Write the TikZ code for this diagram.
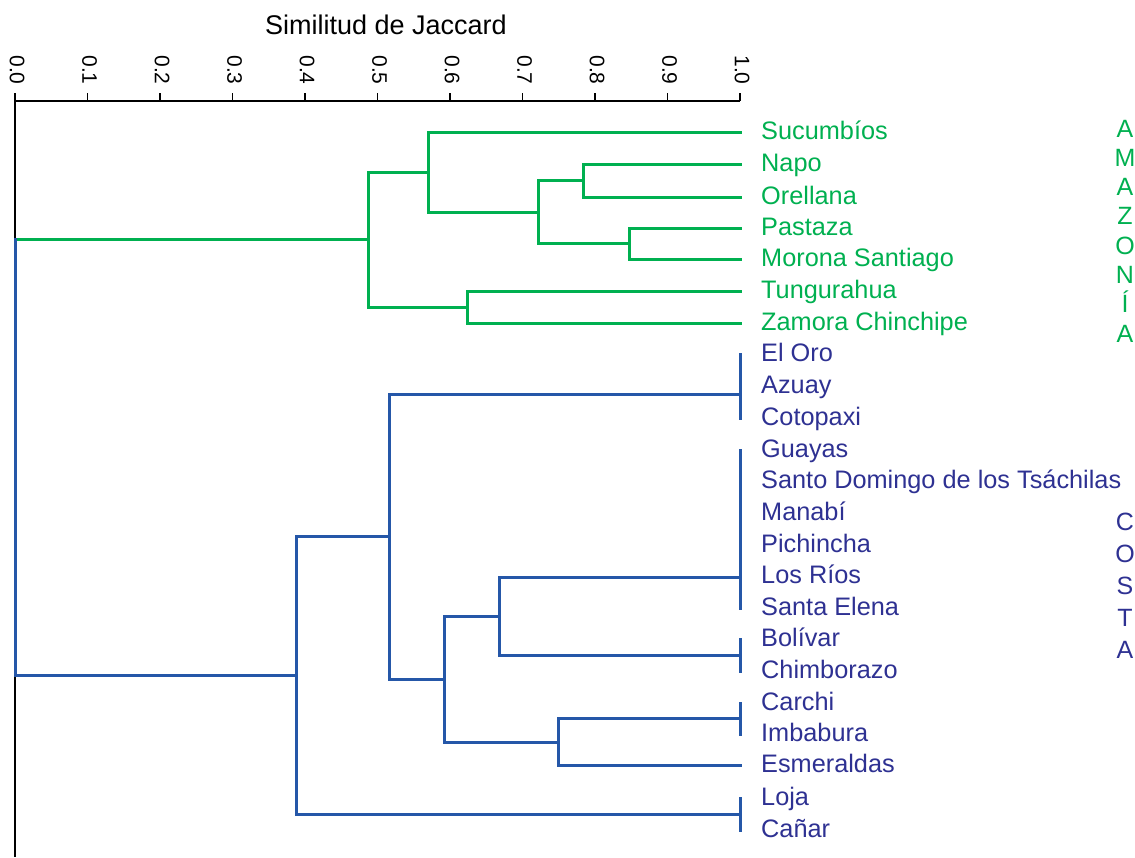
\documentclass[tikz,border=0pt]{standalone}
\usepackage{fontspec}
\setmainfont{Liberation Sans}
\definecolor{gcol}{RGB}{0,176,80}
\definecolor{blcol}{RGB}{37,87,168}
\definecolor{btcol}{RGB}{46,49,146}
\begin{document}
\begin{tikzpicture}[x=1pt,y=-1pt,
  gl/.style={draw=gcol, line width=3pt, line cap=rect},
  bl/.style={draw=blcol, line width=3pt, line cap=rect},
  ax/.style={draw=black, line width=1.8pt},
  ticklab/.style={inner sep=0pt, rotate=-90, font=\fontsize{21}{24}\selectfont},
  leafg/.style={anchor=base west, inner sep=0pt, yshift=-7.5pt, text=gcol, font=\fontsize{25.3}{30}\selectfont},
  leafb/.style={anchor=base west, inner sep=0pt, yshift=-7.5pt, text=btcol, font=\fontsize{25.3}{30}\selectfont},
  region/.style={align=center, inner sep=0pt, font=\fontsize{25}{#1}\selectfont}
]
\useasboundingbox (0,0) rectangle (1135,857);
% title
\node[inner sep=0pt, font=\fontsize{27}{30}\selectfont] (title) at (386,25) {Similitud de Jaccard};
% axis
\coordinate (a0) at (15,101);
\coordinate (a1) at (740,101);
\coordinate (abot) at (15,857);
\draw[ax] (a0) -- (a1);
\draw[ax] (a0) -- (abot);
\foreach \k/\t in {0/0.0,1/0.1,2/0.2,3/0.3,4/0.4,5/0.5,6/0.6,7/0.7,8/0.8,9/0.9,10/1.0}{
  \coordinate (tk\k) at (15+72.5*\k,101);
  \draw[ax] (tk\k) -- ++(0,-8);
  \node[ticklab] (tl\k) at (17+72.5*\k,70) {\t};
}
% leaves
\foreach \n/\y/\t/\s in {
 1/132/Sucumbíos/leafg, 2/164/Napo/leafg, 3/197/Orellana/leafg, 4/228/Pastaza/leafg,
 5/259/Morona Santiago/leafg, 6/291/Tungurahua/leafg, 7/323/Zamora Chinchipe/leafg,
 8/354/El Oro/leafb, 9/386/Azuay/leafb, 10/418/Cotopaxi/leafb, 11/450/Guayas/leafb,
 12/481/Santo Domingo de los Tsáchilas/leafb, 13/513/Manabí/leafb, 14/545/Pichincha/leafb,
 15/576/Los Ríos/leafb, 16/608/Santa Elena/leafb, 17/639/Bolívar/leafb, 18/671/Chimborazo/leafb,
 19/703/Carchi/leafb, 20/734/Imbabura/leafb, 21/765/Esmeraldas/leafb, 22/798/Loja/leafb,
 23/830/Cañar/leafb}{
  \coordinate (L\n) at (740,\y);
  \node[\s] (T\n) at (761,\y) {\t};
}
% internal nodes
\coordinate (g1) at (583,180.5);
\coordinate (g2) at (629,243.5);
\coordinate (g3) at (538,212);
\coordinate (g4) at (428,172);
\coordinate (g5) at (467,307);
\coordinate (g6) at (368,239.5);
\coordinate (rt) at (15,239.5);
\coordinate (b1) at (740,394);
\coordinate (b2) at (740,577);
\coordinate (b3) at (740,655);
\coordinate (b4) at (499,616);
\coordinate (b5) at (740,718.5);
\coordinate (b6) at (558,742);
\coordinate (b7) at (444,679);
\coordinate (b8) at (389,536.5);
\coordinate (b9) at (740,814);
\coordinate (b10) at (296,675);
% green tree
\draw[gl] (L2) -| (g1) |- (L3);
\draw[gl] (L4) -| (g2) |- (L5);
\draw[gl] (g1) -| (g3) |- (g2);
\draw[gl] (L1) -| (g4) |- (g3);
\draw[gl] (L6) -| (g5) |- (L7);
\draw[gl] (g4) -| (g6) |- (g5);
\draw[gl] (g6) -- (rt);
% blue tree
\draw[bl] (L8) -- (L10);
\draw[bl] (L11) -- (L16);
\draw[bl] (L17) -- (L18);
\draw[bl] (L19) -- (L20);
\draw[bl] (L22) -- (L23);
\draw[bl] (b2) -| (b4) |- (b3);
\draw[bl] (b5) -| (b6) |- (L21);
\draw[bl] (b4) -| (b7) |- (b6);
\draw[bl] (b1) -| (b8) |- (b7);
\draw[bl] (b8) -| (b10) |- (b9);
\draw[bl] (rt) |- (b10);
% regions
\node[region=29.3, text=gcol] (amaz) at (1125,231) {A\\M\\A\\Z\\O\\N\\Í\\A};
\node[region=32, text=btcol] (costa) at (1125,586) {C\\O\\S\\T\\A};
\end{tikzpicture}
\end{document}
